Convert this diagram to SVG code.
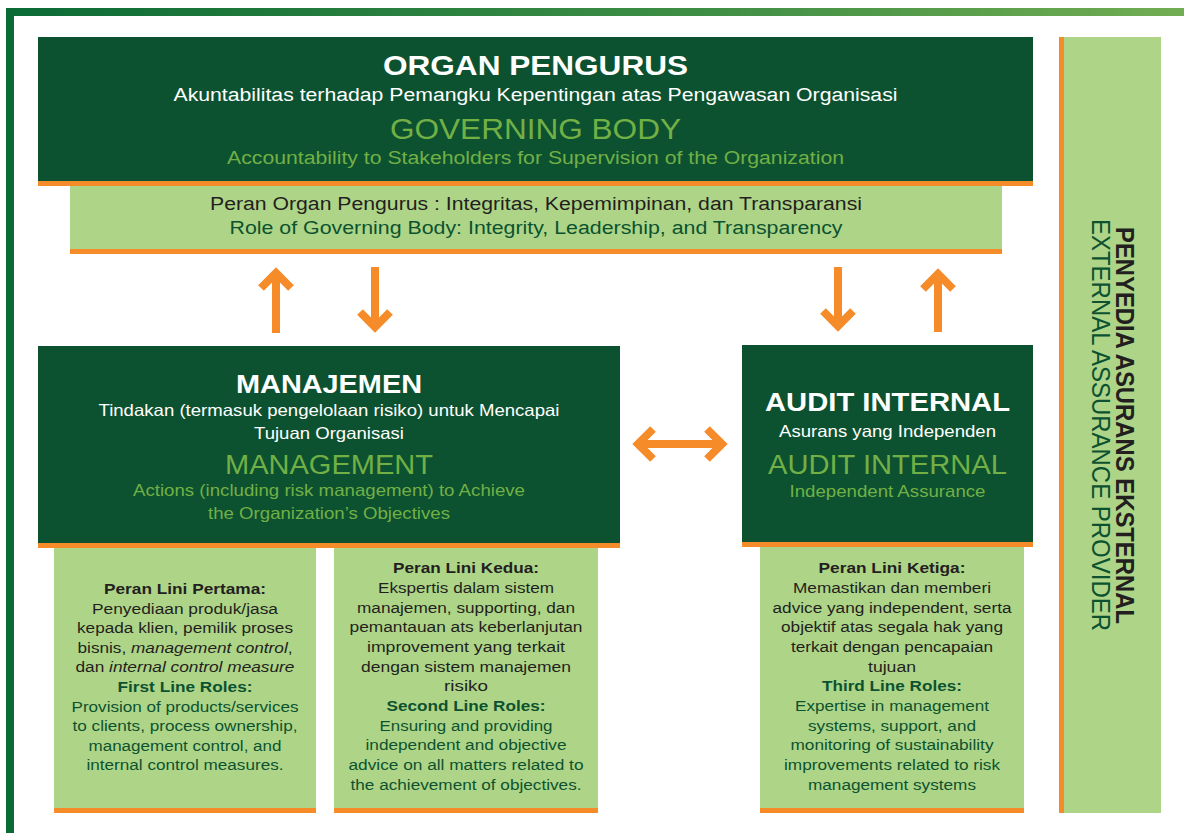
<svg xmlns="http://www.w3.org/2000/svg" width="1184" height="833" viewBox="0 0 1184 833">
<defs>
<linearGradient id="topg" x1="0" y1="0" x2="1" y2="0">
<stop offset="0" stop-color="#0b6b35"/>
<stop offset="0.6" stop-color="#3f8e45"/>
<stop offset="1" stop-color="#72ad52"/>
</linearGradient>
<style>
text{font-family:"Liberation Sans",Arial,Helvetica,sans-serif;text-anchor:middle}
.dk{fill:#0c5230}
.lt{fill:#aed587}
.or{fill:#f58b29}
.h1w{fill:#ffffff;font-weight:bold;font-size:28px}
.h1g{fill:#72b046;font-size:29px}
.sw{fill:#ffffff;font-size:18px}
.sg{fill:#72b046;font-size:18px}
.pd{fill:#231f20;font-size:18px}
.pg{fill:#0c5230;font-size:18px}
.bd{fill:#231f20;font-size:15.5px}
.bg{fill:#0c5230;font-size:15.5px}
.b{font-weight:bold}
.i{font-style:italic}
.arr{fill:none;stroke:#f58b29;stroke-width:8;stroke-linecap:butt;stroke-linejoin:miter}
</style>
</defs>
<rect width="1184" height="833" fill="#ffffff"/>
<g id="frame">
<rect x="6" y="8" width="1178" height="8" fill="url(#topg)"/>
<rect x="6" y="8" width="8" height="825" fill="#0b6b35"/>
</g>

<g id="organ-pengurus">
<rect class="dk" x="38" y="37" width="995" height="144"/>
<rect class="or" x="38" y="181" width="995" height="5"/>
<text class="h1w" x="535.5" y="75" textLength="305" lengthAdjust="spacingAndGlyphs">ORGAN PENGURUS</text>
<text class="sw" x="535.5" y="101" textLength="724" lengthAdjust="spacingAndGlyphs">Akuntabilitas terhadap Pemangku Kepentingan atas Pengawasan Organisasi</text>
<text class="h1g" x="535.5" y="139" textLength="291" lengthAdjust="spacingAndGlyphs">GOVERNING BODY</text>
<text class="sg" x="535.5" y="164" textLength="617" lengthAdjust="spacingAndGlyphs">Accountability to Stakeholders for Supervision of the Organization</text>
</g>

<g id="peran-organ">
<rect class="lt" x="70" y="186" width="932" height="63"/>
<rect class="or" x="70" y="249" width="932" height="5"/>
<text class="pd" x="536" y="210" textLength="652" lengthAdjust="spacingAndGlyphs">Peran Organ Pengurus : Integritas, Kepemimpinan, dan Transparansi</text>
<text class="pg" x="536" y="234" textLength="613" lengthAdjust="spacingAndGlyphs">Role of Governing Body: Integrity, Leadership, and Transparency</text>
</g>

<g id="external-assurance">
<rect class="or" x="1059" y="37" width="5" height="776"/>
<rect class="lt" x="1064" y="37" width="97" height="776"/>
<text transform="translate(1116,425.5) rotate(90)" style="fill:#231f20;font-weight:bold;font-size:25px" textLength="397" lengthAdjust="spacingAndGlyphs">PENYEDIA ASURANS EKSTERNAL</text>
<text transform="translate(1092,425) rotate(90)" style="fill:#0c5230;font-size:25px" textLength="412" lengthAdjust="spacingAndGlyphs">EXTERNAL ASSURANCE PROVIDER</text>
</g>

<g id="manajemen">
<rect class="dk" x="38" y="346" width="582" height="197"/>
<rect class="or" x="38" y="543" width="582" height="5"/>
<text class="h1w" x="329" y="393" style="font-size:26px" textLength="186" lengthAdjust="spacingAndGlyphs">MANAJEMEN</text>
<text class="sw" x="329" y="416" style="font-size:16.5px" textLength="461" lengthAdjust="spacingAndGlyphs">Tindakan (termasuk pengelolaan risiko) untuk Mencapai</text>
<text class="sw" x="329" y="439" style="font-size:16.5px" textLength="150" lengthAdjust="spacingAndGlyphs">Tujuan Organisasi</text>
<text class="h1g" x="329" y="474" style="font-size:27px" textLength="208" lengthAdjust="spacingAndGlyphs">MANAGEMENT</text>
<text class="sg" x="329" y="496" style="font-size:16.5px" textLength="392" lengthAdjust="spacingAndGlyphs">Actions (including risk management) to Achieve</text>
<text class="sg" x="329" y="519" style="font-size:16.5px" textLength="242" lengthAdjust="spacingAndGlyphs">the Organization’s Objectives</text>
</g>

<g id="audit-internal">
<rect class="dk" x="742" y="345" width="291" height="197"/>
<rect class="or" x="742" y="542" width="291" height="5"/>
<text class="h1w" x="887.5" y="411" style="font-size:26px" textLength="245" lengthAdjust="spacingAndGlyphs">AUDIT INTERNAL</text>
<text class="sw" x="887.5" y="437" style="font-size:16.5px" textLength="217" lengthAdjust="spacingAndGlyphs">Asurans yang Independen</text>
<text class="h1g" x="887.5" y="474" style="font-size:27px" textLength="239" lengthAdjust="spacingAndGlyphs">AUDIT INTERNAL</text>
<text class="sg" x="887.5" y="497" style="font-size:16.5px" textLength="196" lengthAdjust="spacingAndGlyphs">Independent Assurance</text>
</g>

<g id="lini-pertama">
<rect class="lt" x="54" y="548" width="262" height="260"/>
<rect class="or" x="54" y="808" width="262" height="5"/>
<text class="bd b" x="185" y="594" textLength="162" lengthAdjust="spacingAndGlyphs">Peran Lini Pertama:</text>
<text class="bd" x="185" y="613.5" textLength="186" lengthAdjust="spacingAndGlyphs">Penyediaan produk/jasa</text>
<text class="bd" x="185" y="633" textLength="216" lengthAdjust="spacingAndGlyphs">kepada klien, pemilik proses</text>
<text class="bd" x="185" y="652.5" textLength="215" lengthAdjust="spacingAndGlyphs">bisnis, <tspan class="i">management control</tspan>,</text>
<text class="bd" x="185" y="672" textLength="219" lengthAdjust="spacingAndGlyphs">dan <tspan class="i">internal control measure</tspan></text>
<text class="bg b" x="185" y="692" textLength="135" lengthAdjust="spacingAndGlyphs">First Line Roles:</text>
<text class="bg" x="185" y="711.5" textLength="227" lengthAdjust="spacingAndGlyphs">Provision of products/services</text>
<text class="bg" x="185" y="731" textLength="225" lengthAdjust="spacingAndGlyphs">to clients, process ownership,</text>
<text class="bg" x="185" y="750.5" textLength="193" lengthAdjust="spacingAndGlyphs">management control, and</text>
<text class="bg" x="185" y="770" textLength="197" lengthAdjust="spacingAndGlyphs">internal control measures.</text>
</g>

<g id="lini-kedua">
<rect class="lt" x="334" y="548" width="264" height="260"/>
<rect class="or" x="334" y="808" width="264" height="5"/>
<text class="bd b" x="466" y="573" textLength="146" lengthAdjust="spacingAndGlyphs">Peran Lini Kedua:</text>
<text class="bd" x="466" y="593" textLength="176" lengthAdjust="spacingAndGlyphs">Ekspertis dalam sistem</text>
<text class="bd" x="466" y="612.5" textLength="218" lengthAdjust="spacingAndGlyphs">manajemen, supporting, dan</text>
<text class="bd" x="466" y="632" textLength="233" lengthAdjust="spacingAndGlyphs">pemantauan ats keberlanjutan</text>
<text class="bd" x="466" y="652" textLength="198" lengthAdjust="spacingAndGlyphs">improvement yang terkait</text>
<text class="bd" x="466" y="671.5" textLength="210" lengthAdjust="spacingAndGlyphs">dengan sistem manajemen</text>
<text class="bd" x="466" y="691" textLength="44" lengthAdjust="spacingAndGlyphs">risiko</text>
<text class="bg b" x="466" y="711" textLength="159" lengthAdjust="spacingAndGlyphs">Second Line Roles:</text>
<text class="bg" x="466" y="730.5" textLength="173" lengthAdjust="spacingAndGlyphs">Ensuring and providing</text>
<text class="bg" x="466" y="750" textLength="201" lengthAdjust="spacingAndGlyphs">independent and objective</text>
<text class="bg" x="466" y="770" textLength="235" lengthAdjust="spacingAndGlyphs">advice on all matters related to</text>
<text class="bg" x="466" y="789.5" textLength="231" lengthAdjust="spacingAndGlyphs">the achievement of objectives.</text>
</g>

<g id="lini-ketiga">
<rect class="lt" x="760" y="547" width="264" height="261"/>
<rect class="or" x="760" y="808" width="264" height="5"/>
<text class="bd b" x="892" y="573" textLength="147" lengthAdjust="spacingAndGlyphs">Peran Lini Ketiga:</text>
<text class="bd" x="892" y="593" textLength="198" lengthAdjust="spacingAndGlyphs">Memastikan dan memberi</text>
<text class="bd" x="892" y="612.5" textLength="239" lengthAdjust="spacingAndGlyphs">advice yang independent, serta</text>
<text class="bd" x="892" y="632" textLength="222" lengthAdjust="spacingAndGlyphs">objektif atas segala hak yang</text>
<text class="bd" x="892" y="652" textLength="202" lengthAdjust="spacingAndGlyphs">terkait dengan pencapaian</text>
<text class="bd" x="892" y="671.5" textLength="48" lengthAdjust="spacingAndGlyphs">tujuan</text>
<text class="bg b" x="892" y="691" textLength="140" lengthAdjust="spacingAndGlyphs">Third Line Roles:</text>
<text class="bg" x="892" y="711" textLength="194" lengthAdjust="spacingAndGlyphs">Expertise in management</text>
<text class="bg" x="892" y="730.5" textLength="168" lengthAdjust="spacingAndGlyphs">systems, support, and</text>
<text class="bg" x="892" y="750" textLength="203" lengthAdjust="spacingAndGlyphs">monitoring of sustainability</text>
<text class="bg" x="892" y="770" textLength="216" lengthAdjust="spacingAndGlyphs">improvements related to risk</text>
<text class="bg" x="892" y="789.5" textLength="168" lengthAdjust="spacingAndGlyphs">management systems</text>
</g>

<g id="connectors">
<path class="arr" d="M276 333 V273 M261 288 L276 273 L291 288"/>
<path class="arr" d="M375 267 V327 M360 312 L375 327 L390 312"/>
<path class="arr" d="M838 267 V326 M823 311 L838 326 L853 311"/>
<path class="arr" d="M938 332 V274 M923 289 L938 274 L953 289"/>
<path class="arr" d="M638 444 H722 M653 429 L638 444 L653 459 M707 429 L722 444 L707 459"/>
</g>
</svg>
